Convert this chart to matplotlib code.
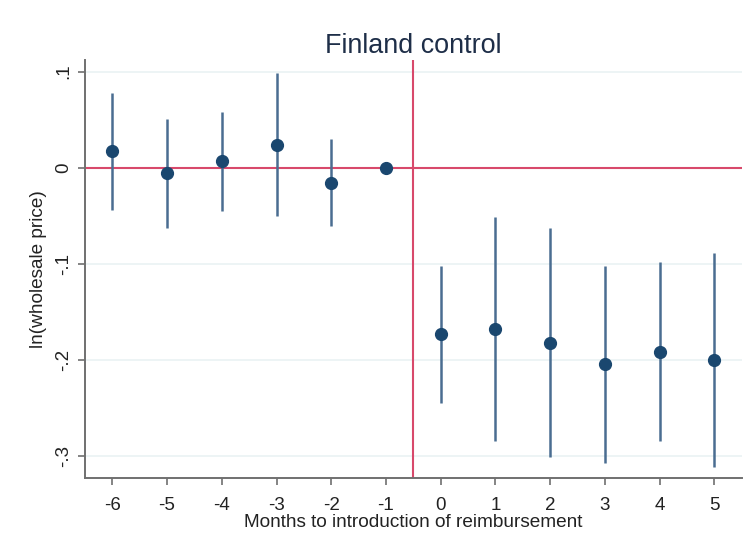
import matplotlib.pyplot as plt

# === Data ===
months = [-6, -5, -4, -3, -2, -1, 0, 1, 2, 3, 4, 5]
coef = [0.0173, -0.0055, 0.0066, 0.0239, -0.0159, 0.0,
        -0.1734, -0.1675, -0.182, -0.2046, -0.1914, -0.2001]
ci_low = [-0.0436, -0.0626, -0.0447, -0.0505, -0.0609, 0.0,
          -0.2443, -0.284, -0.3014, -0.3077, -0.2848, -0.3111]
ci_high = [0.0782, 0.0512, 0.0582, 0.099, 0.0298, 0.0,
           -0.1018, -0.0516, -0.0626, -0.1018, -0.098, -0.0886]
y_ticks = [0.1, 0.0, -0.1, -0.2, -0.3]
y_tick_labels = [".1", "0", "-.1", "-.2", "-.3"]

plt.rcParams['font.family'] = ['Liberation Sans', 'DejaVu Sans']

navy = '#1a476f'
ci_col = '#4a6d91'
red = '#d8496b'
grid_col = '#eaf2f3'
axis_col = '#707070'

fig = plt.figure(figsize=(7.5, 5.52), dpi=100)
ax = fig.add_axes([0.1133, 0.1332, 0.8756, 0.7581])

ax.set_xlim(-6.5, 5.5)
ax.set_ylim(-0.3233, 0.1121)

for y in y_ticks:
    ax.axhline(y, color=grid_col, lw=1.2, zorder=0)

ax.axhline(0, color=red, lw=1.5, zorder=1)
ax.axvline(-0.5, color=red, lw=1.5, zorder=1)

# confidence intervals (skip the reference month with no CI)
for m, lo, hi in zip(months, ci_low, ci_high):
    if lo != hi:
        ax.vlines(m, lo, hi, color=ci_col, lw=1.8, zorder=2)
ax.plot(months, coef, 'o', color=navy, markersize=8.5, zorder=3)

ax.set_xticks(months)
ax.set_xticklabels([str(m) for m in months], fontsize=13.5)
ax.set_yticks(y_ticks)
ax.set_yticklabels(y_tick_labels, fontsize=13.5, rotation=90, va='center')

for side in ['top', 'right']:
    ax.spines[side].set_visible(False)
for side in ['left', 'bottom']:
    ax.spines[side].set_color(axis_col)
    ax.spines[side].set_linewidth(1.4)
ax.tick_params(direction='out', length=5, width=1.2, color=axis_col,
               labelcolor='#222222')
ax.tick_params(axis='x', pad=8)
ax.tick_params(axis='y', pad=4)

ax.set_xlabel('Months to introduction of reimbursement', fontsize=13.7,
              color='#222222', labelpad=0)
ax.set_ylabel('ln(wholesale price)', fontsize=13.7, color='#222222', labelpad=6)
ax.set_title('Finland control', fontsize=19.4, color='#1e2e48', pad=5)

fig.savefig('out.png', dpi=100)
